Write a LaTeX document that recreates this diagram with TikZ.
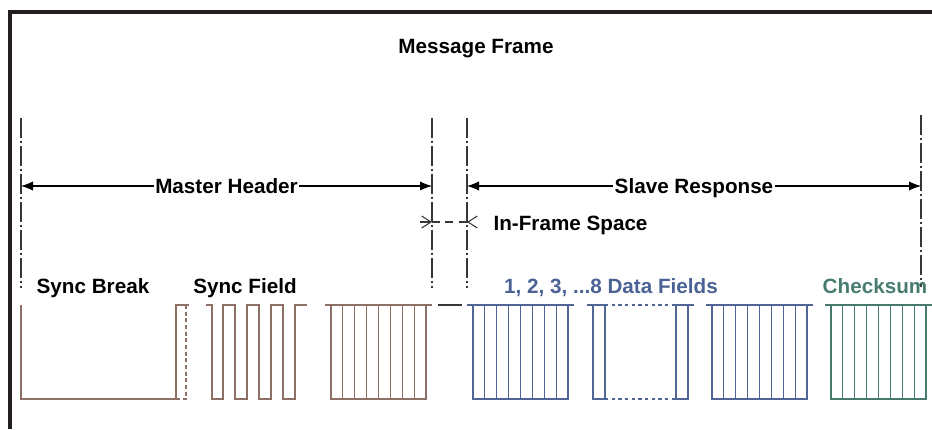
\documentclass[tikz,border=0pt]{standalone}
\usepackage{fontspec}
\setmainfont{Liberation Sans}
\usetikzlibrary{arrows.meta}
\definecolor{framegray}{RGB}{35,31,32}
\definecolor{linegray}{RGB}{55,55,55}
\definecolor{wavebrown}{RGB}{140,112,102}
\definecolor{waveblue}{RGB}{82,102,150}
\definecolor{wavegreen}{RGB}{72,122,112}
\definecolor{textblue}{RGB}{75,98,148}
\definecolor{textgreen}{RGB}{72,124,112}
% one byte: eight bit cells and the top line round them
\newcommand{\databyte}[2]{%
	\draw[wave,#2] (#1-6,305) -- (#1+101,305);
	\foreach \k in {0,...,7}
		\draw[wave,#2] ({#1+\k*11.875},305) rectangle ({#1+(\k+1)*11.875},399);
}
\begin{document}
\begin{tikzpicture}[x=0.75pt,y=-0.75pt,
		lbl/.style={font=\fontsize{15.5}{18}\selectfont\bfseries,inner sep=1pt},
		extline/.style={linegray,line width=0.8pt,dash pattern=on 15pt off 2pt on 2pt off 2pt},
		dimarrow/.style={black,line width=0.8pt,{Latex[length=9pt,width=7pt]}-{Latex[length=9pt,width=7pt]}},
		wave/.style={line width=0.9pt}]
	\useasboundingbox (0,0) rectangle (932,429);
	% frame
	\draw[framegray,line width=3pt] (10,429) -- (10,12) -- (932,12);
	\node[lbl,anchor=base] (title) at (476,53) {Message Frame};

	% extension lines
	\coordinate (mhT) at (21,118);   \coordinate (mhB) at (21,288);
	\coordinate (mhE) at (432,118);  \coordinate (mhEB) at (432,288);
	\coordinate (srT) at (467,118);  \coordinate (srB) at (467,288);
	\coordinate (srE) at (921,115);  \coordinate (srEB) at (921,287);
	\draw[extline] (mhT) -- (mhB);
	\draw[extline] (mhE) -- (mhEB);
	\draw[extline] (srT) -- (srB);
	\draw[extline] (srE) -- (srEB);

	% dimension arrows
	\coordinate (mhL) at (21,186);  \coordinate (mhR) at (432,186);
	\coordinate (srL) at (467,186); \coordinate (srR) at (921,186);
	\draw[dimarrow] (mhL) -- (mhR) node[lbl,midway,fill=white,text depth=0pt] (mh) {Master Header};
	\draw[dimarrow] (srL) -- (srR) node[lbl,midway,fill=white,text depth=0pt] (sr) {Slave Response};

	\coordinate (ifL) at (432,222); \coordinate (ifR) at (467,222);
	\coordinate (ifLo) at (420,222); \coordinate (ifRo) at (482,222);
	\draw[linegray,line width=0.8pt,-{Straight Barb[length=7pt,width=9pt]}] (ifLo) -- (ifL);
	\draw[linegray,line width=0.8pt,dash pattern=on 6pt off 4pt] (ifL) -- (ifR);
	\draw[linegray,line width=0.8pt,{Straight Barb[length=7pt,width=9pt]}-,shorten >=11pt] (ifR) -- (ifRo);
	\node[lbl,anchor=base west] (ifs) at (492,230) {In-Frame Space};

	% field labels
	\node[lbl,anchor=base] (brk) at (93,293) {Sync Break};
	\node[lbl,anchor=base] (syn) at (245,293) {Sync Field};
	\node[lbl,anchor=base,text=textblue] (dat) at (611,293) {1, 2, 3, ...8 Data Fields};
	\node[lbl,anchor=base,text=textgreen] (chk) at (875,293) {Checksum};

	% sync break
	\draw[wave,wavebrown] (21,305) -- (21,399) -- (176,399) -- (176,305) -- (189,305);
	\draw[wave,wavebrown,dash pattern=on 3pt off 2pt] (186,305) -- (186,399) -- (176,399);
	% sync field
	\draw[wave,wavebrown] (206,305) -- (212,305) -- (212,399) -- (223,399) -- (223,305)
		-- (235,305) -- (235,399) -- (247,399) -- (247,305) -- (259,305) -- (259,399)
		-- (271,399) -- (271,305) -- (283,305) -- (283,399) -- (295,399) -- (295,305) -- (307,305);
	\databyte{331}{wavebrown}
	% in-frame space
	\draw[line width=1pt,linegray] (438,305) -- (462,305);
	% data fields
	\databyte{473}{waveblue}
	\draw[wave,waveblue] (587,305) -- (605,305);
	\draw[wave,waveblue] (593,305) rectangle (605,399);
	\draw[wave,waveblue,dash pattern=on 2.5pt off 2.5pt] (605,305) -- (676,305);
	\draw[wave,waveblue,dash pattern=on 2.5pt off 2.5pt] (605,399) -- (676,399);
	\draw[wave,waveblue] (676,305) rectangle (688,399);
	\draw[wave,waveblue] (676,305) -- (694,305);
	\databyte{712}{waveblue}
	% checksum
	\databyte{831}{wavegreen}
\end{tikzpicture}
\end{document}
